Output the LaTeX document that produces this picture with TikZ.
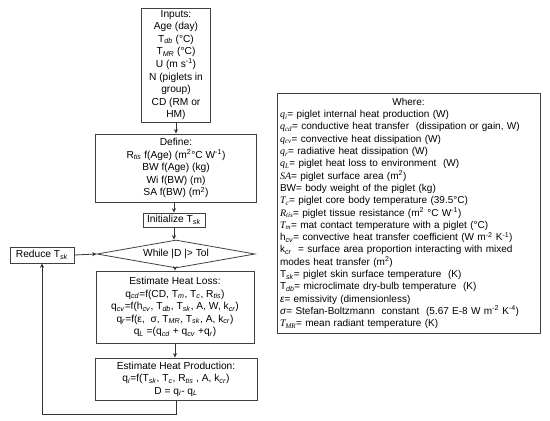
\documentclass[tikz,border=0pt]{standalone}
\usepackage{fontspec}
\setmainfont{Liberation Sans}
\newfontfamily\cambria{Liberation Serif}
\usetikzlibrary{shapes.geometric,arrows.meta}
\newcommand\sbi[1]{\textsubscript{\textit{#1}}}
\newcommand\vi[1]{{\cambria\itshape #1}}
\newcommand\sps[1]{\textsuperscript{#1}}
\begin{document}
\begin{tikzpicture}[x=1pt,y=-1pt,
  box/.style={draw=black!75, line width=0.8pt, align=center, inner sep=2pt,
    font=\fontsize{10.2pt}{12.6pt}\selectfont},
  arr/.style={draw=black!80, line width=0.8pt, -{Stealth[length=4.5pt,width=4pt]}},
  ln/.style={draw=black!80, line width=0.8pt}]
\useasboundingbox (0,0) rectangle (550,421);
\node[box, minimum width=69pt, minimum height=114pt] (inputs) at (176,65)
  {Inputs:\\ Age (day)\\ T\sbi{db} (°C)\\ T\sbi{MR} (°C)\\ U (m s\sps{-1})\\ N (piglets in\\ group)\\ CD (RM or\\ HM)};
\node[box, minimum width=161pt, minimum height=68pt] (define) at (176,168)
  {Define:\\ R\sbi{tis} f(Age) (m\sps{2}°C W\sps{-1})\\ BW f(Age) (kg)\\ Wi f(BW) (m)\\ SA f(BW) (m\sps{2})};
\node[box, minimum width=62pt, minimum height=14pt] (init) at (174,220) {Initialize T\sbi{sk}};
\node[box, diamond, aspect=5.6, inner sep=0pt, minimum width=158pt, minimum height=28pt] (while) at (176,254) {While |D |> Tol};
\node[box, minimum width=64pt, minimum height=16pt] (reduce) at (42,255) {Reduce T\sbi{sk}};
\node[box, minimum width=158pt, minimum height=72pt] (loss) at (175,307)
  {Estimate Heat Loss:\\ q\sbi{cd}=f(CD, T\sbi{m}, T\sbi{c}, R\sbi{tis})\\ q\sbi{cv}=f(h\sbi{cv}, T\sbi{db}, T\sbi{sk}, A, W, k\sbi{cr})\\ q\sbi{r}=f(ε,\ \ σ, T\sbi{MR}, T\sbi{sk}, A, k\sbi{cr})\\ q\sbi{L} =(q\sbi{cd} + q\sbi{cv} +q\sbi{r})};
\node[box, minimum width=162pt, minimum height=42pt] (prod) at (176,379)
  {Estimate Heat Production:\\ q\sbi{i}=f(T\sbi{sk}, T\sbi{c}, R\sbi{tis} , A, k\sbi{cr})\\ D = q\sbi{i}- q\sbi{L}};
\node[box, align=left, text width=257pt, minimum height=240pt, inner sep=3pt,
  font=\fontsize{10pt}{12.3pt}\selectfont] (where) at (408.5,213.5)
  {\makebox[\linewidth]{Where:}\\
  \vi{q\textsubscript{i}}= piglet internal heat production (W)\\
  \vi{q\textsubscript{cd}}= conductive heat transfer\ \ (dissipation or gain, W)\\
  \vi{q\textsubscript{cv}}= convective heat dissipation (W)\\
  \vi{q\textsubscript{r}}= radiative heat dissipation (W)\\
  \vi{q\textsubscript{L}}= piglet heat loss to environment\ \ (W)\\
  \vi{SA}= piglet surface area (m\sps{2})\\
  BW= body weight of the piglet (kg)\\
  \vi{T\textsubscript{c}}= piglet core body temperature (39.5°C)\\
  \vi{R\textsubscript{tis}}= piglet tissue resistance (m\sps{2} °C W\sps{-1})\\
  \vi{T\textsubscript{m}}= mat contact temperature with a piglet (°C)\\
  h\sbi{cv}= convective heat transfer coefficient (W m\sps{-2} K\sps{-1})\\
  k\sbi{cr}\ \ = surface area proportion interacting with mixed\\
  modes heat transfer (m\sps{2})\\
  T\sbi{sk}= piglet skin surface temperature\ \ (K)\\
  T\sbi{db}= microclimate dry-bulb temperature\ \ (K)\\
  \textit{ε}= emissivity (dimensionless)\\
  \textit{σ}= Stefan-Boltzmann\ \ constant\ \ (5.67 E-8 W m\sps{-2} K\sps{-4})\\
  \vi{T\textsubscript{MR}}= mean radiant temperature (K)};
\draw[arr] (inputs.south) -- (define.north -| inputs.south);
\draw[arr] (define.south -| init.north) -- (init.north);
\draw[arr] (init.south) -- (while.north -| init.south);
\draw[arr] (while.south -| loss.north) -- (loss.north);
\draw[arr] (loss.south) -- (prod.north -| loss.south);
\draw[arr] (reduce.east) -- (while.west);
\coordinate (c1) at (176,414);
\coordinate (c2) at (42,414);
\draw[arr] (prod.south) -- (c1) -- (c2) -- (reduce.south);
\end{tikzpicture}
\end{document}
